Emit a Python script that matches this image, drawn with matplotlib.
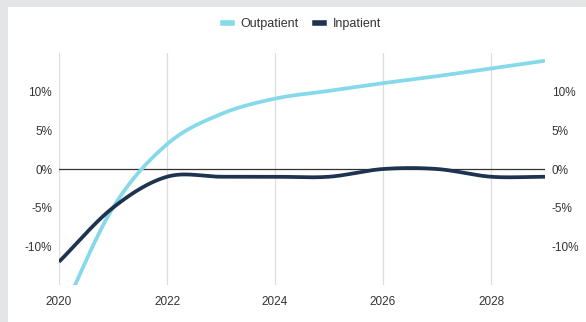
import numpy as np
import matplotlib
matplotlib.use("Agg")
import matplotlib.pyplot as plt
from matplotlib.patches import Rectangle
from matplotlib.lines import Line2D

years = [2020, 2021, 2022, 2023, 2024, 2025, 2026, 2027, 2028, 2029]
outpatient = [-19.5, -5.0, 3.2, 7.1, 9.1, 10.1, 11.1, 12.0, 13.0, 14.0]
inpatient = [-12.0, -5.0, -1.0, -1.0, -1.0, -1.0, 0.0, 0.0, -1.0, -1.0]
y_ticks = [-10, -5, 0, 5, 10]
x_ticks = [2020, 2022, 2024, 2026, 2028]

c_out = "#86d9ea"
c_in = "#1d3350"
txt = "#333333"

plt.rcParams['font.family'] = ['Liberation Sans', 'DejaVu Sans']


def catmull(x, y, n=40):
    x = np.asarray(x, float)
    y = np.asarray(y, float)
    m = np.zeros_like(y)
    m[1:-1] = (y[2:] - y[:-2]) / (x[2:] - x[:-2])
    m[0] = (y[1] - y[0]) / (x[1] - x[0])
    m[-1] = (y[-1] - y[-2]) / (x[-1] - x[-2])
    xs, ys = [], []
    for i in range(len(x) - 1):
        h = x[i + 1] - x[i]
        t = np.linspace(0, 1, n, endpoint=(i == len(x) - 2))
        h00 = 2 * t**3 - 3 * t**2 + 1
        h10 = t**3 - 2 * t**2 + t
        h01 = -2 * t**3 + 3 * t**2
        h11 = t**3 - t**2
        xs.append(x[i] + t * h)
        ys.append(h00 * y[i] + h10 * h * m[i] + h01 * y[i + 1] + h11 * h * m[i + 1])
    return np.concatenate(xs), np.concatenate(ys)


fig = plt.figure(figsize=(5.86, 3.22), dpi=100, facecolor="#e4e5e7")
bg = fig.add_axes([8 / 586, 0, 1 - 8 / 586, 1 - 7 / 322], zorder=-5)
bg.set_facecolor("white")
bg.axis("off")
bg.add_patch(Rectangle((0, 0), 1, 1, transform=bg.transAxes, facecolor="white", edgecolor="none"))

ax = fig.add_axes([59 / 586, 1 - 285 / 322, (545 - 59) / 586, (285 - 53) / 322], zorder=1)
ax.set_facecolor("none")
ax.set_xlim(2020, 2029)
ax.set_ylim(-15, 15)

for xt in x_ticks:
    ax.axvline(xt, color="#dddddd", lw=0.9, zorder=1)
ax.axhline(0, color="#333333", lw=0.9, zorder=2)

xo, yo = catmull(years, outpatient)
xi, yi = catmull(years, inpatient)
ax.plot(xo, yo, color=c_out, lw=2.7, solid_capstyle="butt", zorder=3)
ax.plot(xi, yi, color=c_in, lw=2.7, solid_capstyle="butt", zorder=4)

for s in ax.spines.values():
    s.set_visible(False)
ax.set_xticks(x_ticks)
ax.set_xticklabels([str(v) for v in x_ticks])
ax.set_yticks(y_ticks)
ax.set_yticklabels([f"{v}%" for v in y_ticks])
ax.tick_params(axis="both", length=0, labelsize=8.5, colors=txt)
ax.tick_params(axis="x", pad=8)
ax.tick_params(axis="y", pad=5, labelright=True, right=False)

handles = [Line2D([], [], color=c_out, lw=4), Line2D([], [], color=c_in, lw=4)]
fig.legend(handles, ["Outpatient", "Inpatient"], loc="center", bbox_to_anchor=(302 / 586, 1 - 24 / 322),
           ncol=2, frameon=False, fontsize=9, handlelength=0.75, handletextpad=0.65,
           columnspacing=1.3, labelcolor=txt)

fig.savefig("out.png", dpi=100, facecolor=fig.get_facecolor())
